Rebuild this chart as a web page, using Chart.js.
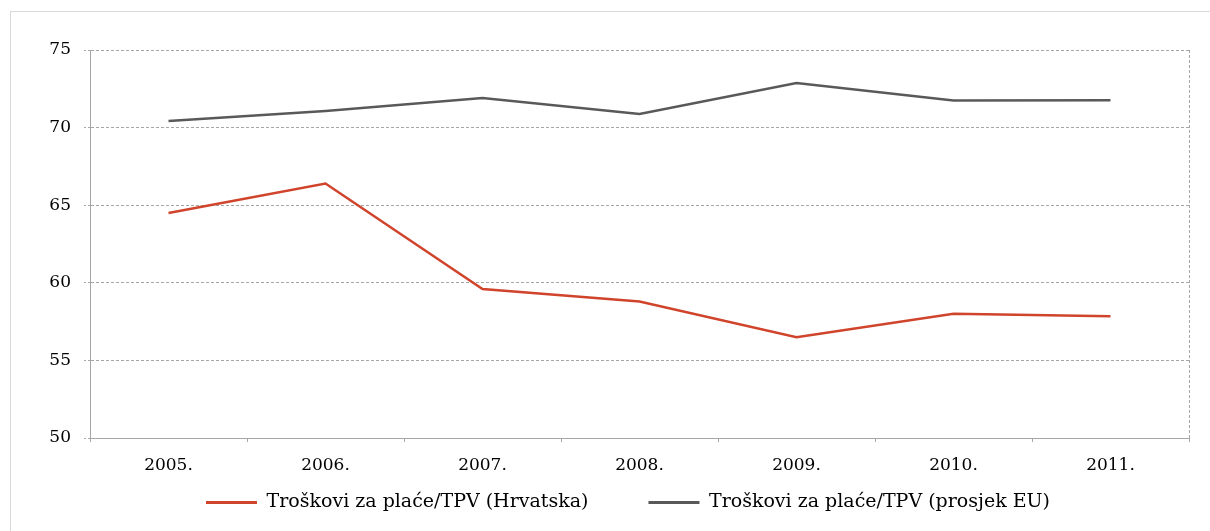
<!DOCTYPE html>
<html>
<head>
<meta charset="utf-8">
<script src="https://cdn.jsdelivr.net/npm/chart.js@4/dist/chart.umd.min.js"></script>
<style>
  html, body { margin: 0; padding: 0; background: #fff; overflow: hidden; }
  #frame { position: absolute; left: 10px; top: 11px; width: 1260px; height: 560px; border: 1px solid #d9d9d9; }
  #wrap { position: absolute; left: 0; top: 0; width: 1200px; height: 555px; }
</style>
</head>
<body>
<div id="frame">
  <div id="wrap"><canvas id="chart" width="1200" height="555"></canvas></div>
</div>
<script>
// data
const years = ['2005.', '2006.', '2007.', '2008.', '2009.', '2010.', '2011.'];
const hrvatska = [64.5, 66.4, 59.6, 58.8, 56.5, 58.0, 57.85];
const prosjekEU = [70.43, 71.07, 71.9, 70.88, 72.87, 71.75, 71.77];
const yTicks = [50, 55, 60, 65, 70, 75];

const serif = "'DejaVu Serif', 'Liberation Serif', serif";
const gridGray = '#a6a6a6';

// dashed right edge of the plot area
const rightEdge = {
  id: 'rightEdge',
  afterDraw(chart) {
    const { ctx, chartArea } = chart;
    ctx.save();
    ctx.strokeStyle = gridGray;
    ctx.lineWidth = 1;
    ctx.setLineDash([3, 2]);
    ctx.beginPath();
    ctx.moveTo(Math.round(chartArea.right) + 0.5, chartArea.top);
    ctx.lineTo(Math.round(chartArea.right) + 0.5, chartArea.bottom);
    ctx.stroke();
    ctx.restore();
  }
};

// legend uses a wide padding for the gap between items, so pull it back up under the axis
const legendPlace = {
  id: 'legendPlace',
  afterLayout(chart) {
    const lg = chart.legend;
    const h = lg.bottom - lg.top;
    lg.top = chart.chartArea.bottom - 5;
    lg.bottom = lg.top + h;
    lg.left += 28;
    lg.right += 28;
  }
};

const ctx = document.getElementById('chart').getContext('2d');
new Chart(ctx, {
  type: 'line',
  data: {
    labels: years,
    datasets: [{
      label: 'Troškovi za plaće/TPV (Hrvatska)',
      data: hrvatska,
      borderColor: '#d0442c',
      backgroundColor: '#d0442c',
      borderWidth: 2.5,
      pointRadius: 0,
      tension: 0
    }, {
      label: 'Troškovi za plaće/TPV (prosjek EU)',
      data: prosjekEU,
      borderColor: '#595959',
      backgroundColor: '#595959',
      borderWidth: 2.5,
      pointRadius: 0,
      tension: 0
    }]
  },
  options: {
    responsive: false,
    animation: false,
    layout: { padding: { left: 0, right: 22, top: 38, bottom: 0 } },
    plugins: {
      tooltip: { enabled: false },
      legend: {
        position: 'bottom',
        labels: {
          color: '#000',
          font: { family: serif, size: 19 },
          boxWidth: 51,
          boxHeight: 3,
          padding: 60,
          generateLabels(chart) {
            const items = Chart.defaults.plugins.legend.labels.generateLabels(chart);
            items.forEach(it => { it.lineWidth = 0; });
            return items;
          }
        }
      }
    },
    scales: {
      x: {
        offset: true,
        grid: {
          offset: true,
          drawOnChartArea: false,
          drawTicks: true,
          tickLength: 6,
          tickColor: gridGray,
          tickBorderDash: [3, 2]
        },
        border: { color: gridGray, dash: [3, 2] },
        ticks: { color: '#000', font: { family: serif, size: 17 }, padding: 11, maxRotation: 0 },
        afterFit(scale) { scale.height = 40; }
      },
      y: {
        min: 50,
        max: 75,
        afterBuildTicks(scale) { scale.ticks = yTicks.map(v => ({ value: v })); },
        grid: {
          color: gridGray,
          tickColor: gridGray,
          tickLength: 6,
          borderDash: [2, 2],
          tickBorderDash: [2, 2]
        },
        border: { color: gridGray, dash: [3, 2] },
        ticks: { color: '#000', font: { family: serif, size: 17 }, padding: 13 },
        afterFit(scale) { scale.width = 79; }
      }
    }
  },
  plugins: [rightEdge, legendPlace]
});
</script>
</body>
</html>
